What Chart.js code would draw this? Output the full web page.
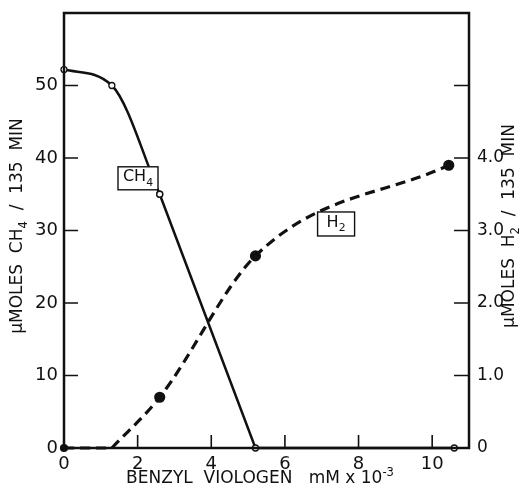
<!DOCTYPE html>
<html>
<head>
<meta charset="utf-8">
<script src="https://cdn.jsdelivr.net/npm/chart.js"></script>
<style>
html, body { margin: 0; padding: 0; background: #fff; }
</style>
</head>
<body>
<canvas id="grafico" width="521" height="495"></canvas>
<script>
// datos
var ch4Viologeno = [0, 1.3, 2.6, 5.2, 10.6];
var ch4Valores = [52.2, 50, 35, 0, 0];
var h2Viologeno = [0, 1.3, 2.6, 5.2, 10.45];
var h2Valores = [0, 0, 0.7, 2.65, 3.9];
var xTicks = [0, 2, 4, 6, 8, 10];
var ch4Ticks = [0, 10, 20, 30, 40, 50];
var h2Ticks = [0, 1, 2, 3, 4, 5];
var h2TickLabels = ['0', '1.0', '2.0', '3.0', '4.0', ''];

var fuente = '"DejaVu Sans", sans-serif';
var negro = '#111';

function puntos(xs, ys, desde, hasta) {
    var r = [];
    for (var i = desde; i <= hasta; i++) r.push({x: xs[i], y: ys[i]});
    return r;
}

// texto con subindices / superindices: partes = [[texto, desplazamiento]]
function textoPartes(ctx, partes, x, y, size, align) {
    var total = 0;
    partes.forEach(function(p) {
        ctx.font = (p[1] ? size * 0.68 : size) + 'px ' + fuente;
        total += ctx.measureText(p[0]).width;
    });
    var cx = align === 'center' ? x - total / 2 : x;
    partes.forEach(function(p) {
        ctx.font = (p[1] ? size * 0.68 : size) + 'px ' + fuente;
        ctx.fillText(p[0], cx, y + p[1] * size * 0.35);
        cx += ctx.measureText(p[0]).width;
    });
    return total;
}

function sinRelleno(s) {
    s.paddingTop = 0; s.paddingBottom = 0; s.paddingLeft = 0; s.paddingRight = 0;
}

var marcoPlugin = {
    id: 'marco',
    afterDraw: function(chart) {
        var ctx = chart.ctx;
        var a = chart.chartArea;
        var sx = chart.scales.x, sy = chart.scales.y, sy2 = chart.scales.y2;
        ctx.save();
        ctx.strokeStyle = negro;
        ctx.fillStyle = negro;
        ctx.lineWidth = 2.5;
        ctx.strokeRect(a.left, a.top, a.right - a.left, a.bottom - a.top);

        // marcas hacia adentro
        ctx.lineWidth = 1.6;
        ctx.beginPath();
        xTicks.forEach(function(v) {
            var px = sx.getPixelForValue(v);
            ctx.moveTo(px, a.bottom); ctx.lineTo(px, a.bottom - 13);
        });
        ch4Ticks.forEach(function(v) {
            var py = sy.getPixelForValue(v);
            ctx.moveTo(a.left, py); ctx.lineTo(a.left + 14, py);
        });
        h2Ticks.forEach(function(v) {
            var py = sy2.getPixelForValue(v);
            ctx.moveTo(a.right, py); ctx.lineTo(a.right - 15, py);
        });
        ctx.stroke();

        // etiquetas en caja
        ctx.textBaseline = 'middle';
        ctx.lineWidth = 1.4;
        var cajas = [
            {x: 2.01, y: 37.2, partes: [['CH', 0], ['4', 1]], w: 40, h: 23},
            {x: 7.39, y: 30.9, partes: [['H', 0], ['2', 1]], w: 37, h: 24}
        ];
        cajas.forEach(function(c) {
            var px = sx.getPixelForValue(c.x), py = sy.getPixelForValue(c.y);
            ctx.fillStyle = '#fff';
            ctx.fillRect(px - c.w / 2, py - c.h / 2, c.w, c.h);
            ctx.strokeRect(px - c.w / 2, py - c.h / 2, c.w, c.h);
            ctx.fillStyle = negro;
            textoPartes(ctx, c.partes, px, py - 1, 16, 'center');
        });

        // titulos de ejes
        ctx.textBaseline = 'middle';
        textoPartes(ctx, [['BENZYL  VIOLOGEN   mM x 10', 0], ['-3', -1]], 260, 479, 17, 'center');

        ctx.save();
        ctx.translate(18, 226);
        ctx.rotate(-Math.PI / 2);
        textoPartes(ctx, [['\u03BCMOLES  CH', 0], ['4', 1], ['  /  135  MIN', 0]], 0, 0, 17, 'center');
        ctx.restore();

        ctx.save();
        ctx.translate(510, 226);
        ctx.rotate(-Math.PI / 2);
        textoPartes(ctx, [['\u03BCMOLES  H', 0], ['2', 1], ['  /  135  MIN', 0]], 0, 0, 17, 'center');
        ctx.restore();

        ctx.restore();
    }
};

var ctx = document.getElementById('grafico').getContext('2d');
var estiloCh4 = {
    showLine: true,
    borderColor: negro,
    borderWidth: 2.5,
    pointRadius: 3,
    pointBackgroundColor: '#fff',
    pointBorderColor: negro,
    pointBorderWidth: 1.3,
    yAxisID: 'y',
    clip: false
};
var estiloH2 = {
    showLine: true,
    borderColor: negro,
    borderWidth: 3.2,
    borderDash: [10, 6],
    pointBackgroundColor: negro,
    pointBorderColor: negro,
    yAxisID: 'y2',
    clip: false
};
var grafico = new Chart(ctx, {
    type: 'scatter',
    data: {
        datasets: [
            Object.assign({ label: 'CH4', data: puntos(ch4Viologeno, ch4Valores, 0, 2),
                cubicInterpolationMode: 'monotone' }, estiloCh4),
            Object.assign({ label: 'CH4 recta', data: puntos(ch4Viologeno, ch4Valores, 2, 4),
                tension: 0 }, estiloCh4),
            Object.assign({ label: 'H2 base', data: puntos(h2Viologeno, h2Valores, 0, 1),
                tension: 0, pointRadius: [2.5, 0] }, estiloH2),
            Object.assign({ label: 'H2', data: puntos(h2Viologeno, h2Valores, 1, 4),
                cubicInterpolationMode: 'monotone', pointRadius: [0, 4, 4, 4] }, estiloH2)
        ]
    },
    options: {
        responsive: false,
        animation: false,
        devicePixelRatio: 1,
        layout: { padding: { top: 13, left: 0, right: 0, bottom: 0 } },
        plugins: {
            legend: { display: false },
            tooltip: { enabled: false }
        },
        scales: {
            x: {
                type: 'linear',
                min: 0,
                max: 11,
                grid: { display: false, drawTicks: false },
                border: { display: false },
                afterBuildTicks: function(s) { s.ticks = xTicks.map(function(v) { return {value: v}; }); },
                afterFit: function(s) { s.height = 47; sinRelleno(s); },
                ticks: {
                    padding: 6,
                    color: negro,
                    font: { family: fuente, size: 18 },
                    maxRotation: 0,
                    callback: function(v) { return String(v); }
                }
            },
            y: {
                position: 'left',
                min: 0,
                max: 60,
                grid: { display: false, drawTicks: false },
                border: { display: false },
                afterBuildTicks: function(s) { s.ticks = ch4Ticks.map(function(v) { return {value: v}; }); },
                afterFit: function(s) { s.width = 64; sinRelleno(s); },
                ticks: {
                    padding: 6,
                    color: negro,
                    font: { family: fuente, size: 18 },
                    callback: function(v) { return String(v); }
                }
            },
            y2: {
                position: 'right',
                min: 0,
                max: 6,
                grid: { display: false, drawTicks: false },
                border: { display: false },
                afterBuildTicks: function(s) { s.ticks = h2Ticks.map(function(v) { return {value: v}; }); },
                afterFit: function(s) { s.width = 52; sinRelleno(s); },
                ticks: {
                    padding: 8,
                    color: negro,
                    font: { family: fuente, size: 17 },
                    callback: function(v, i) { return h2TickLabels[i]; }
                }
            }
        }
    },
    plugins: [marcoPlugin]
});
</script>
</body>
</html>
